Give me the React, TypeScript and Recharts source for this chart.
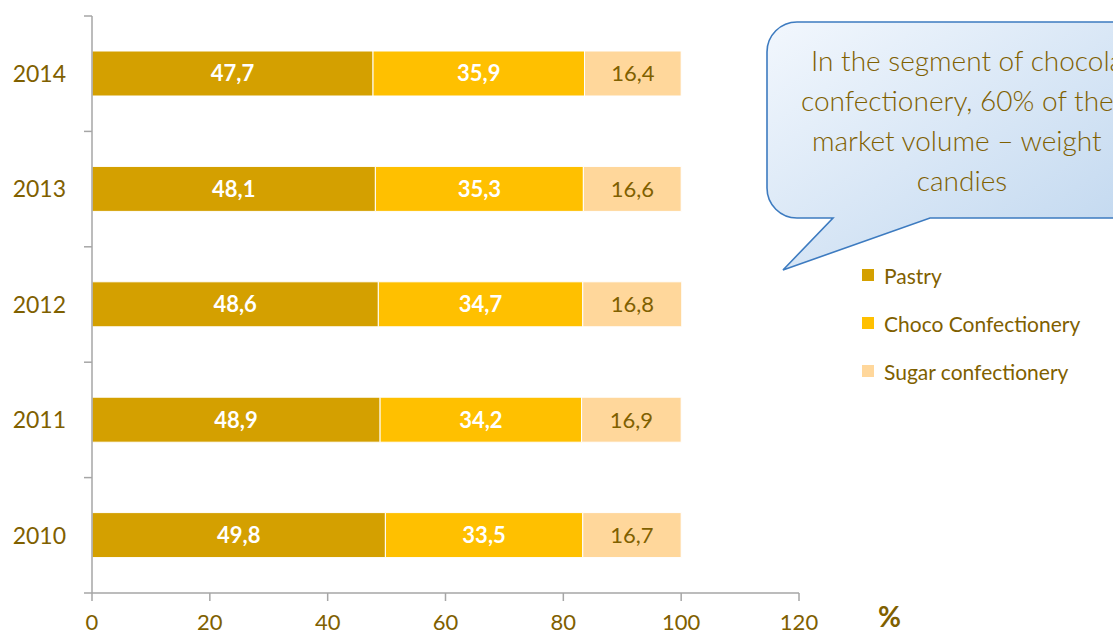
import React from "react";
import {
  BarChart,
  Bar,
  XAxis,
  YAxis,
  Legend,
  LabelList,
} from "recharts";

const years = ["2014", "2013", "2012", "2011", "2010"];
const pastry = [47.7, 48.1, 48.6, 48.9, 49.8];
const choco = [35.9, 35.3, 34.7, 34.2, 33.5];
const sugar = [16.4, 16.6, 16.8, 16.9, 16.7];
const xTicks = [0, 20, 40, 60, 80, 100, 120];

const seriesNames = ["Pastry", "Choco Confectionery", "Sugar confectionery"];
const seriesColors = ["#D4A000", "#FFC000", "#FFD79B"];

const calloutLines = [
  "In the segment of chocolate",
  "confectionery, 60% of the",
  "market volume – weight",
  "candies",
];

const data = years.map((year, i) => ({
  year,
  pastry: pastry[i],
  choco: choco[i],
  sugar: sugar[i],
}));

const TEXT = "#7F6000";
const AXIS = "#A6A6A6";
const FONT = "Lato, 'Open Sans', sans-serif";

const fmt = (v: any) => Number(v).toFixed(1).replace(".", ",");

// category ticks sit at band centres, but the tick marks go on band edges
const YTick = (props: any) => {
  const { x, y, payload, index, visibleTicksCount } = props;
  const half = payload?.offset ?? 0;
  const axisX = x + 8;
  return (
    <g>
      <line x1={axisX - 8} x2={axisX} y1={y - half} y2={y - half} stroke={AXIS} strokeWidth={1.5} />
      {index === visibleTicksCount - 1 && (
        <line x1={axisX - 8} x2={axisX} y1={y + half} y2={y + half} stroke={AXIS} strokeWidth={1.5} />
      )}
      <text
        x={axisX - 26}
        y={y}
        dy="0.36em"
        textAnchor="end"
        fill={TEXT}
        fontSize={23}
        fontFamily={FONT}
      >
        {payload.value}
      </text>
    </g>
  );
};

const LegendContent = (props: any) => {
  const items = [...(props.payload || [])].sort(
    (a: any, b: any) => seriesNames.indexOf(a.value) - seriesNames.indexOf(b.value)
  );
  return (
    <div style={{ fontFamily: FONT, fontSize: 21, color: TEXT }}>
      {items.map((it: any) => (
        <div key={it.value} style={{ display: "flex", alignItems: "center", height: 48 }}>
          <span
            style={{
              display: "inline-block",
              width: 12,
              height: 12,
              background: it.color,
              marginRight: 10,
            }}
          />
          <span>{it.value}</span>
        </div>
      ))}
    </div>
  );
};

const Callout = () => (
  <svg
    width={1113}
    height={637}
    style={{ position: "absolute", left: 0, top: 0, pointerEvents: "none" }}
  >
    <defs>
      <linearGradient id="bubble" x1="0" y1="0" x2="1" y2="1">
        <stop offset="0%" stopColor="#F2F7FD" />
        <stop offset="100%" stopColor="#BDD5EE" />
      </linearGradient>
    </defs>
    <path
      d="M 797 22 H 1150 V 218 H 930 L 783 270 L 833 218 H 797 A 30 30 0 0 1 767 188 V 52 A 30 30 0 0 1 797 22 Z"
      fill="url(#bubble)"
      stroke="#3D7BC0"
      strokeWidth={1.6}
    />
    {calloutLines.map((line, i) => (
      <text
        key={i}
        x={i === 3 ? 962 : [811, 801, 812][i]}
        y={61 + i * 40}
        dy="0.35em"
        textAnchor={i === 3 ? "middle" : "start"}
        fill={TEXT}
        fontSize={28}
        fontFamily={FONT}
        fontWeight={300}
      >
        {line}
      </text>
    ))}
    <text x={878} y={617} dy="0.35em" fill={TEXT} fontSize={28} fontWeight={700} fontFamily={FONT}>
      %
    </text>
  </svg>
);

export default function App() {
  return (
    <div style={{ position: "absolute", left: 0, top: 0, width: 1113, height: 637, background: "#fff" }}>
      <BarChart
        width={1113}
        height={637}
        data={data}
        layout="vertical"
        margin={{ top: 16, right: 314, bottom: 0, left: 0 }}
        barSize={45}
      >
        <XAxis
          type="number"
          domain={[0, 120]}
          ticks={xTicks}
          height={44}
          tickSize={8}
          tickMargin={13}
          stroke={AXIS}
          strokeWidth={1.5}
          tick={{ fill: TEXT, fontSize: 22, fontFamily: FONT }}
          interval={0}
        />
        <YAxis
          type="category"
          dataKey="year"
          width={92}
          stroke={AXIS}
          strokeWidth={1.5}
          tickLine={false}
          tick={<YTick />}
          interval={0}
        />
        <Legend
          layout="vertical"
          align="center"
          verticalAlign="middle"
          content={<LegendContent />}
          wrapperStyle={{ position: "absolute", left: 862, top: 251, width: 260 }}
        />
        <Bar dataKey="pastry" name={seriesNames[0]} stackId="a" fill={seriesColors[0]} stroke="#fff" strokeWidth={1} isAnimationActive={false}>
          <LabelList dataKey="pastry" position="center" formatter={fmt} fill="#fff" fontSize={22} fontWeight={700} fontFamily={FONT} />
        </Bar>
        <Bar dataKey="choco" name={seriesNames[1]} stackId="a" fill={seriesColors[1]} stroke="#fff" strokeWidth={1} isAnimationActive={false}>
          <LabelList dataKey="choco" position="center" formatter={fmt} fill="#fff" fontSize={22} fontWeight={700} fontFamily={FONT} />
        </Bar>
        <Bar dataKey="sugar" name={seriesNames[2]} stackId="a" fill={seriesColors[2]} stroke="#fff" strokeWidth={1} isAnimationActive={false}>
          <LabelList dataKey="sugar" position="center" formatter={fmt} fill={TEXT} fontSize={22} fontFamily={FONT} />
        </Bar>
      </BarChart>
      <Callout />
    </div>
  );
}
